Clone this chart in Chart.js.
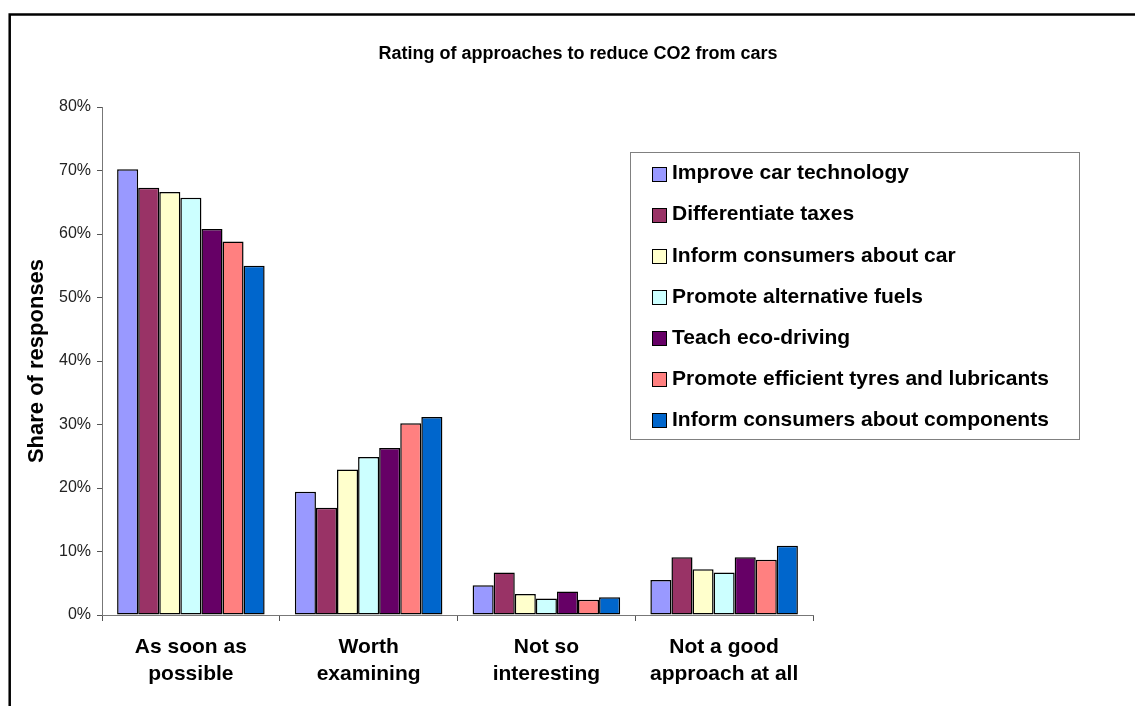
<!DOCTYPE html>
<html>
<head>
<meta charset="utf-8">
<script src="https://cdn.jsdelivr.net/npm/chart.js@4"></script>
<style>
  html, body { margin: 0; padding: 0; background: #fff; }
  #wrap { width: 1135px; height: 706px; position: relative; }
</style>
</head>
<body>
<div id="wrap"><canvas id="c"></canvas></div>
<script>
// --- DATA ---
const categories = [
    ['As soon as', 'possible'],
    ['Worth', 'examining'],
    ['Not so', 'interesting'],
    ['Not a good', 'approach at all']
];
const seriesNames = [
    'Improve car technology',
    'Differentiate taxes',
    'Inform consumers about car',
    'Promote alternative fuels',
    'Teach eco-driving',
    'Promote efficient tyres and lubricants',
    'Inform consumers about components'
];
const improveTech   = [70.2, 19.4, 4.7, 5.5];
const diffTaxes     = [67.3, 16.9, 6.7, 9.1];
const informCar     = [66.6, 22.9, 3.3, 7.2];
const altFuels      = [65.7, 24.9, 2.6, 6.7];
const ecoDriving    = [60.8, 26.3, 3.7, 9.1];
const tyresLubes    = [58.8, 30.2, 2.4, 8.7];
const informComps   = [55.0, 31.2, 2.8, 10.9];
const yTicks = [0, 10, 20, 30, 40, 50, 60, 70, 80];

const seriesValues = [improveTech, diffTaxes, informCar, altFuels, ecoDriving, tyresLubes, informComps];
const colors = ['#9999FF', '#993366', '#FFFFCC', '#CCFFFF', '#660066', '#FF8080', '#0066CC'];

const FONT = "'Liberation Sans', Arial, sans-serif";

// frame, title and the boxed legend
const decor = {
    id: 'decor',
    beforeDraw(chart) {
        const c = chart.ctx;
        c.save();
        c.fillStyle = '#fff';
        c.fillRect(0, 0, chart.width, chart.height);
        c.strokeStyle = '#000';
        c.lineWidth = 2.5;
        c.beginPath();
        c.moveTo(9.7, chart.height + 5);
        c.lineTo(9.7, 14.5);
        c.lineTo(chart.width + 5, 14.5);
        c.stroke();
        c.restore();
    },
    afterDraw(chart) {
        const c = chart.ctx;
        c.save();
        // title
        c.fillStyle = '#000';
        c.font = 'bold 18px ' + FONT;
        c.textAlign = 'center';
        c.textBaseline = 'alphabetic';
        c.fillText('Rating of approaches to reduce CO2 from cars', 578, 59);

        // legend
        c.strokeStyle = '#808080';
        c.lineWidth = 1;
        c.fillStyle = '#fff';
        c.fillRect(630.5, 152.5, 449, 287);
        c.strokeRect(630.5, 152.5, 449, 287);
        c.font = 'bold 21px ' + FONT;
        c.textAlign = 'left';
        c.textBaseline = 'middle';
        chart.data.datasets.forEach((ds, i) => {
            const cy = 173.6 + i * 41.1;
            c.fillStyle = ds.backgroundColor;
            c.fillRect(652.5, Math.round(cy) - 6.5, 14, 14);
            c.strokeStyle = '#000';
            c.strokeRect(652.5, Math.round(cy) - 6.5, 14, 14);
            c.fillStyle = '#000';
            c.fillText(ds.label, 672, cy);
        });
        c.restore();
    }
};

const ctx = document.getElementById('c').getContext('2d');
const chart = new Chart(ctx, {
    type: 'bar',
    data: {
        labels: categories,
        datasets: seriesNames.map((name, i) => ({
            label: name,
            data: seriesValues[i],
            backgroundColor: colors[i],
            borderColor: '#000',
            borderWidth: 1.5,
            borderSkipped: false,
            categoryPercentage: 0.83,
            barPercentage: 1.0
        }))
    },
    options: {
        responsive: true,
        maintainAspectRatio: false,
        animation: false,
        devicePixelRatio: 1,
        layout: { padding: { left: 0, top: 107, right: 322, bottom: 0 } },
        plugins: {
            legend: { display: false },
            title: { display: false },
            tooltip: { enabled: false }
        },
        scales: {
            x: {
                grid: { display: true, drawOnChartArea: false, drawTicks: true, tickLength: 6, color: '#555', offset: true },
                border: { display: true, color: '#777', width: 1 },
                ticks: {
                    color: '#000',
                    font: { family: FONT, size: 21, weight: 'bold', lineHeight: 1.29 },
                    padding: 13,
                    maxRotation: 0,
                    autoSkip: false
                },
                afterFit(scale) { scale.height = 91; }
            },
            y: {
                min: 0,
                max: 80,
                afterBuildTicks(scale) { scale.ticks = yTicks.map(v => ({ value: v })); },
                grid: { display: true, drawOnChartArea: false, drawTicks: true, tickLength: 5, color: '#555' },
                border: { display: true, color: '#777', width: 1 },
                ticks: {
                    color: '#222',
                    font: { family: FONT, size: 16 },
                    padding: 6,
                    callback: v => v + '%'
                },
                title: {
                    display: true,
                    text: 'Share of responses',
                    color: '#000',
                    font: { family: FONT, size: 22, weight: 'bold' },
                    padding: { top: 24, bottom: 0 }
                },
                afterFit(scale) { scale.width = 102; }
            }
        }
    },
    plugins: [decor]
});
</script>
</body>
</html>
